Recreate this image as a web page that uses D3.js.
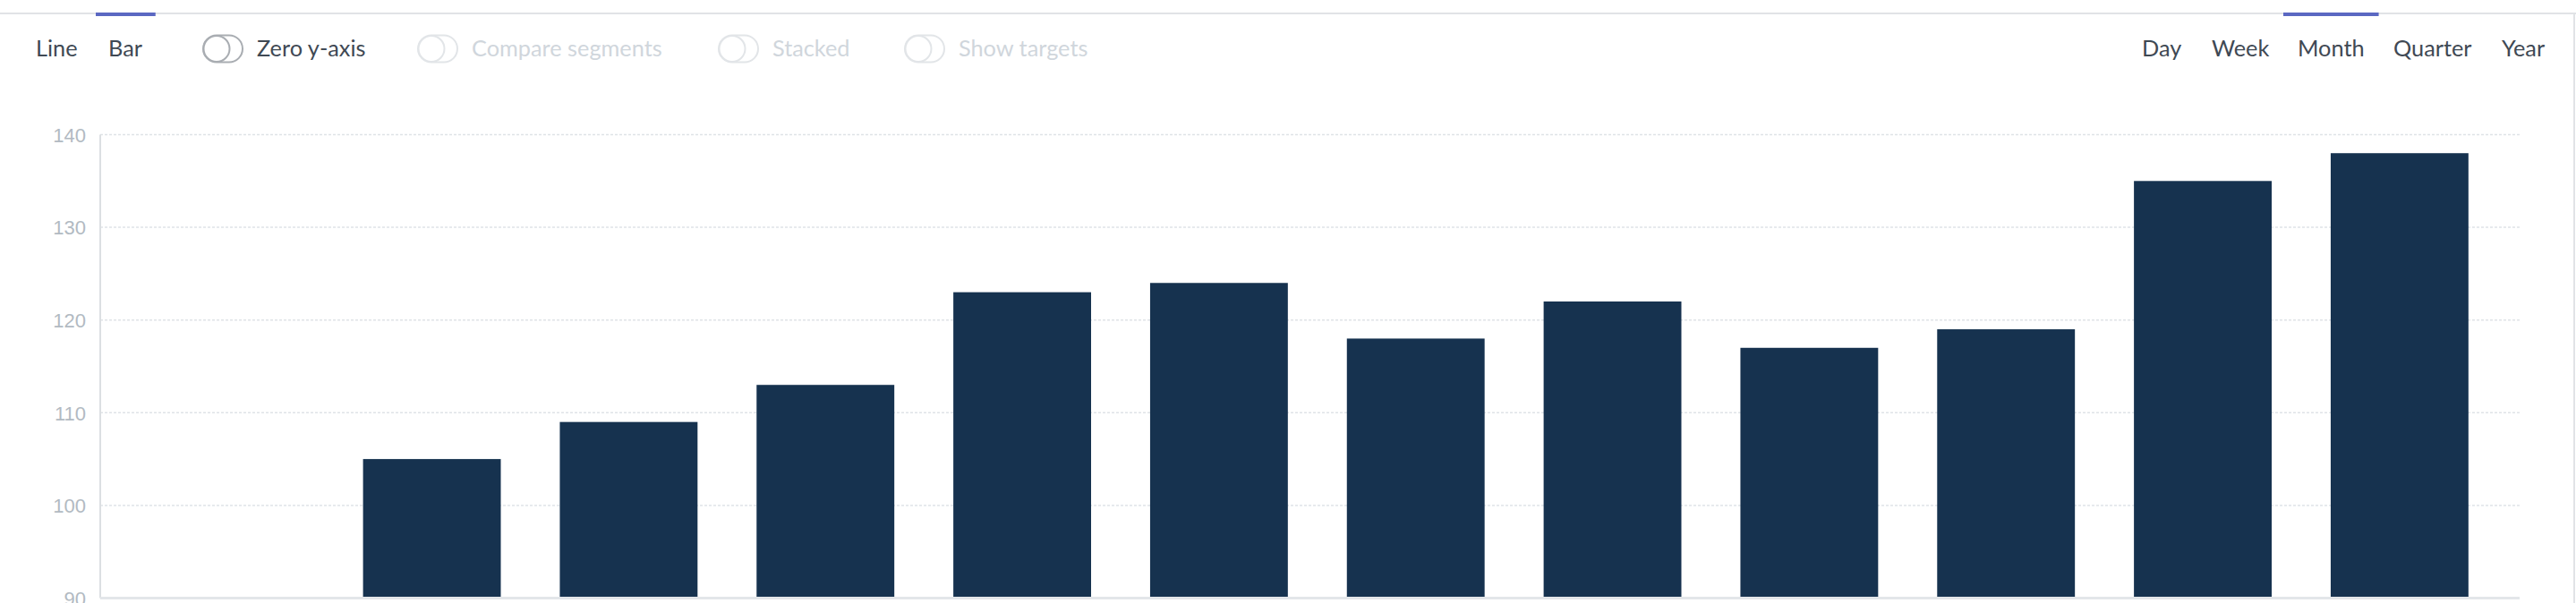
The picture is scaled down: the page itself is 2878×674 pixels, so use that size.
<!DOCTYPE html>
<html>
<head>
<meta charset="utf-8">
<script src="https://cdn.jsdelivr.net/npm/d3@7"></script>
<style>
  html, body { margin: 0; padding: 0; background: #fff; }
  svg { display: block; }
  .ui { font-family: Lato, "Open Sans", sans-serif; font-size: 25.3px; }
</style>
</head>
<body>
<svg id="chart" width="2878" height="674"></svg>
<script>
// ---- data ----
const categories = ["Jan", "Feb", "Mar", "Apr", "May", "Jun", "Jul", "Aug", "Sep", "Oct", "Nov", "Dec"];
const values = [null, 105, 109, 113, 123, 124, 118, 122, 117, 119, 135, 138];
const yTicks = [90, 100, 110, 120, 130, 140];
const chartTypes = ["Line", "Bar"];
const toggles = ["Zero y-axis", "Compare segments", "Stacked", "Show targets"];
const toggleEnabled = [true, false, false, false];
const periods = ["Day", "Week", "Month", "Quarter", "Year"];
const activeChartType = "Bar";
const activePeriod = "Month";

// ---- layout ----
const W = 2878, H = 674;
const svg = d3.select("#chart");

const x = d3.scaleBand().domain(categories).range([152.8, 2790.8]).paddingInner(0.3).paddingOuter(0.15);
const y = d3.scaleLinear().domain([90, 140]).range([668.5, 150.5]);
const plotLeft = 112, plotRight = 2815;

// frame
svg.append("line").attr("x1", 0).attr("x2", W).attr("y1", 15).attr("y2", 15)
  .attr("stroke", "#e1e3e6").attr("stroke-width", 2);
svg.append("line").attr("x1", 2876).attr("x2", 2876).attr("y1", 14).attr("y2", H)
  .attr("stroke", "#e1e3e6").attr("stroke-width", 2);

// ---- toolbar ----
const textBaseline = 63;
const typeX = [40, 121];
const ui = svg.append("g").attr("class", "ui");

chartTypes.forEach((t, i) => {
  const tx = ui.append("text").attr("x", typeX[i]).attr("y", textBaseline)
    .attr("fill", "#3f4954").text(t);
  if (t === activeChartType) {
    const bb = tx.node().getBBox();
    svg.append("rect").attr("x", bb.x - 14).attr("y", 14).attr("width", bb.width + 28).attr("height", 4)
      .attr("fill", "#5b68c2");
  }
});

const toggleX = [226, 466, 802, 1010];
toggles.forEach((t, i) => {
  const on = toggleEnabled[i];
  const stroke = on ? "#a9adb2" : "#e2e5e8";
  const g = ui.append("g").attr("transform", `translate(${toggleX[i]},39)`);
  g.append("rect").attr("x", 1).attr("y", 0.5).attr("width", 44).attr("height", 30).attr("rx", 15)
    .attr("fill", "none").attr("stroke", stroke).attr("stroke-width", 2);
  g.append("circle").attr("cx", 16).attr("cy", 15.5).attr("r", 14.5)
    .attr("fill", "#fff").attr("stroke", stroke).attr("stroke-width", 2);
  ui.append("text").attr("x", toggleX[i] + 61).attr("y", textBaseline)
    .attr("fill", on ? "#3f4954" : "#d0d6dc").text(t);
});

const periodX = [2393, 2471, 2567, 2674, 2795];
periods.forEach((p, i) => {
  const tx = ui.append("text").attr("x", periodX[i]).attr("y", textBaseline)
    .attr("fill", "#3f4954").text(p);
  if (p === activePeriod) {
    const bb = tx.node().getBBox();
    svg.append("rect").attr("x", bb.x - 16).attr("y", 14).attr("width", bb.width + 32).attr("height", 4)
      .attr("fill", "#5b68c2");
  }
});

// ---- grid ----
const grid = svg.append("g");
grid.selectAll("line").data(yTicks.filter(d => d !== 90)).join("line")
  .attr("x1", plotLeft).attr("x2", plotRight)
  .attr("y1", d => y(d)).attr("y2", d => y(d))
  .attr("stroke", "#dfe3e7").attr("stroke-width", 1.5).attr("stroke-dasharray", "3,2");

// ---- y axis ----
const yAxis = d3.axisLeft(y).tickValues(yTicks).tickSize(0).tickPadding(16).tickFormat(d3.format("d"));
const yg = svg.append("g").attr("transform", `translate(${plotLeft},0)`).call(yAxis);
yg.select(".domain").remove();
yg.selectAll("text").attr("font-family", "'Liberation Sans', Arial, sans-serif")
  .attr("font-size", 22).attr("fill", "#b2bac2").attr("dy", "0.35em");

// ---- bars ----
svg.append("g").selectAll("rect")
  .data(categories.map((c, i) => ({ c, v: values[i] })).filter(d => d.v != null))
  .join("rect")
  .attr("x", d => x(d.c)).attr("width", x.bandwidth())
  .attr("y", d => y(d.v)).attr("height", d => y(90) - y(d.v))
  .attr("fill", "#16324f");

// axis lines
svg.append("line").attr("x1", plotLeft).attr("x2", plotLeft).attr("y1", y(140)).attr("y2", y(90))
  .attr("stroke", "#dcdfe2").attr("stroke-width", 2);
svg.append("line").attr("x1", plotLeft).attr("x2", plotRight).attr("y1", y(90)).attr("y2", y(90))
  .attr("stroke", "#e3e6e9").attr("stroke-width", 3);
</script>
</body>
</html>
